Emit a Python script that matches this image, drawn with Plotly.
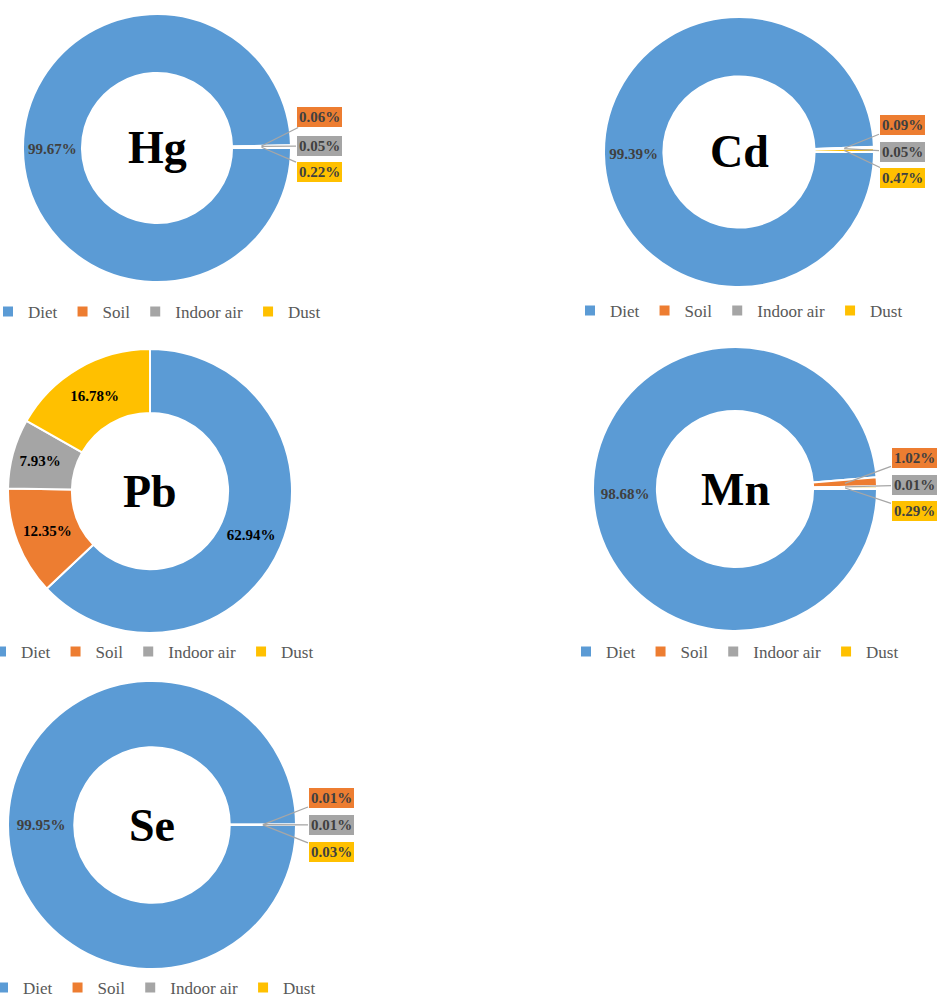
import math
import plotly.graph_objects as go

W, H = 938, 997

# ---------------- data ----------------
sources = ["Diet", "Soil", "Indoor air", "Dust"]
elements = ["Hg", "Cd", "Pb", "Mn", "Se"]
hg_share = [99.67, 0.06, 0.05, 0.22]
cd_share = [99.39, 0.09, 0.05, 0.47]
pb_share = [62.94, 12.35, 7.93, 16.78]
mn_share = [98.68, 1.02, 0.01, 0.29]
se_share = [99.95, 0.01, 0.01, 0.03]
shares = [hg_share, cd_share, pb_share, mn_share, se_share]

# ---------------- styling / layout ----------------
colors = ["#5B9BD5", "#ED7D31", "#A5A5A5", "#FFC000"]
SERIF = "Liberation Serif"

# per panel: centre (px), outer radius (px), hole, rotation, legend y (px),
# callout box x (px) and y positions (px) (None = labels inside)
panels = [
    dict(cx=157, cy=148, r=134, hole=0.56, rot=90, ly=312, bx=319, by=[117, 146, 172], tc="#404040"),
    dict(cx=739, cy=152, r=135, hole=0.56, rot=90, ly=311, bx=902, by=[125, 152, 178], tc="#404040"),
    dict(cx=150, cy=491, r=142, hole=0.55, rot=0, ly=652, bx=None, by=None, tc="#000000"),
    dict(cx=735, cy=489, r=142, hole=0.55, rot=90, ly=652, bx=914, by=[458, 485, 511], tc="#404040"),
    dict(cx=152, cy=825, r=144, hole=0.54, rot=90, ly=988, bx=331, by=[798, 825, 852], tc="#404040"),
]

fig = go.Figure()
annotations = []
layout_legends = {}

for i, (el, vals, p) in enumerate(zip(elements, shares, panels)):
    legend_id = "legend" if i == 0 else f"legend{i + 1}"
    callout = p["bx"] is not None
    texts = [f"{v:.2f}%" if (not callout or j == 0) else "" for j, v in enumerate(vals)]
    cx, cy, r = p["cx"], p["cy"], p["r"]
    fig.add_trace(go.Pie(
        labels=sources,
        values=vals,
        name=el,
        legendgroup=el,
        sort=False,
        direction="clockwise",
        rotation=p["rot"],
        hole=p["hole"],
        marker=dict(colors=colors, line=dict(color="white", width=2)),
        text=texts,
        textinfo="text",
        textposition="inside",
        insidetextorientation="horizontal",
        textfont=dict(family=SERIF, size=15, color=p["tc"], weight="bold"),
        domain=dict(x=[(cx - r) / W, (cx + r) / W], y=[1 - (cy + r) / H, 1 - (cy - r) / H]),
        legend=legend_id,
        hoverinfo="label+percent",
    ))
    layout_legends[legend_id] = dict(
        orientation="h", traceorder="normal",
        x=cx / W, xanchor="center", y=1 - p["ly"] / H, yanchor="middle",
        font=dict(family=SERIF, size=17, color="#595959"), bgcolor="rgba(0,0,0,0)",
        itemwidth=30,
    )
    # element name in the hole
    annotations.append(dict(
        x=cx / W, y=1 - cy / H, xref="paper", yref="paper", showarrow=False,
        xanchor="center", yanchor="middle",
        text=el, font=dict(family=SERIF, size=46, color="black", weight="bold"),
    ))
    # call-out boxes for the tiny slices
    if callout:
        total = sum(vals)
        rmid = r * (1 + p["hole"]) / 2
        cum = 0.0
        k = 0
        for j, v in enumerate(vals):
            start = cum
            cum += v
            if j == 0:
                continue
            ang = math.radians(p["rot"] + 360.0 * (start + v / 2) / total)
            px = cx + rmid * math.sin(ang)
            py = cy - rmid * math.cos(ang)
            annotations.append(dict(
                x=px / W, y=1 - py / H, xref="paper", yref="paper",
                ax=p["bx"] - px, ay=p["by"][k] - py, axref="pixel", ayref="pixel",
                showarrow=True, arrowhead=0, arrowwidth=1.3, arrowcolor="#A6A6A6", standoff=0,
                text=f"{v:.2f}%", bgcolor=colors[j], bordercolor="white", borderwidth=1, borderpad=2,
                font=dict(family=SERIF, size=15, color="#404040", weight="bold"),
            ))
            k += 1

fig.update_layout(
    width=W, height=H,
    margin=dict(l=0, r=0, t=0, b=0, autoexpand=False),
    paper_bgcolor="white", plot_bgcolor="white",
    annotations=annotations,
    **layout_legends,
)

fig.write_html("out.html")
